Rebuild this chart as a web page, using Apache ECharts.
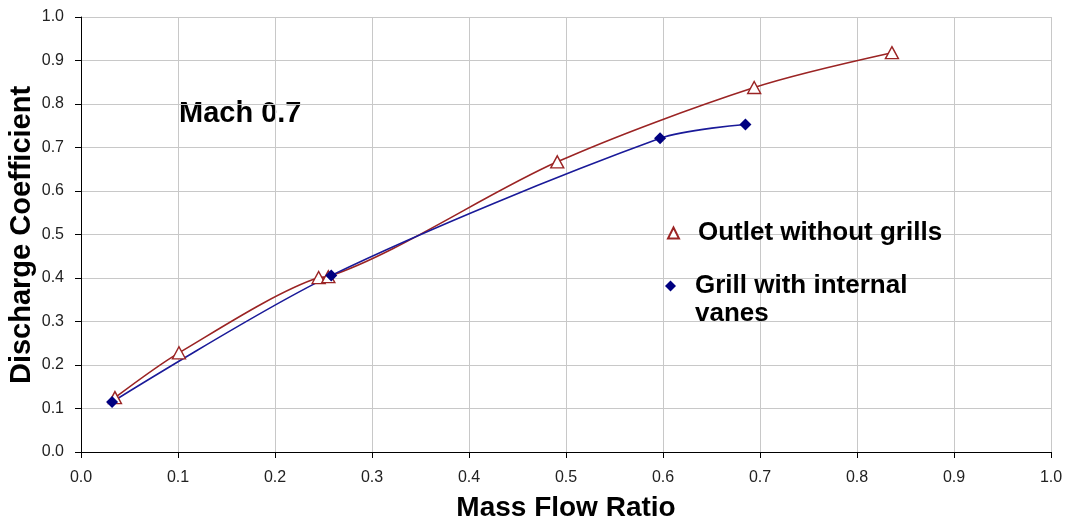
<!DOCTYPE html>
<html>
<head>
<meta charset="utf-8">
<script src="https://cdn.jsdelivr.net/npm/echarts@6/dist/echarts.min.js"></script>
<style>
html,body{margin:0;padding:0;background:#fff;}
#chart{width:1079px;height:523px;}
</style>
</head>
<body>
<div id="chart"></div>
<script>
// Data
const outletName = 'Outlet without grills';
const grillName = 'Grill with internal vanes';
const outletX = [0.035, 0.101, 0.245, 0.255, 0.491, 0.694, 0.836];
const outletY = [0.125, 0.228, 0.401, 0.403, 0.667, 0.838, 0.918];
const grillX = [0.032, 0.258, 0.597, 0.685];
const grillY = [0.115, 0.406, 0.721, 0.753];
const xTitle = 'Mass Flow Ratio';
const yTitle = 'Discharge Coefficient';
const noteText = 'Mach 0.7';

const pairs = (xs, ys) => xs.map((x, i) => [x, ys[i]]);
const font = '"Liberation Sans", Arial, sans-serif';
const redColor = '#9B2424';
const blueColor = '#000080';

const chart = echarts.init(document.getElementById('chart'), null, {renderer: 'canvas'});
const axisCommon = {
  type: 'value', min: 0, max: 1, interval: 0.1,
  axisLine: {show: true, lineStyle: {color: '#000', width: 1}},
  axisTick: {show: true, length: 6, lineStyle: {color: '#000'}},
  splitLine: {show: true, lineStyle: {color: '#c8c8c8', width: 1}},
  axisLabel: {fontFamily: font, fontSize: 16, color: '#222', formatter: v => v.toFixed(1)},
  nameLocation: 'middle',
  nameMoveOverlap: false,
  nameTextStyle: {fontFamily: font, fontWeight: 'bold', color: '#000'}
};
chart.setOption({
  animation: false,
  backgroundColor: '#fff',
  grid: {left: 81, right: 28, top: 17, bottom: 71, containLabel: false, outerBoundsMode: 'none'},
  xAxis: Object.assign({}, axisCommon, {
    name: xTitle, nameGap: 42,
    axisLabel: Object.assign({}, axisCommon.axisLabel, {margin: 18}),
    nameTextStyle: Object.assign({}, axisCommon.nameTextStyle, {fontSize: 28})
  }),
  yAxis: Object.assign({}, axisCommon, {
    axisLabel: Object.assign({}, axisCommon.axisLabel, {margin: 17})
  }),
  legend: [
    {
      data: [{name: outletName, icon: 'triangle'}],
      left: 667, top: 220, padding: 0, itemWidth: 11, itemHeight: 11,
      lineStyle: {opacity: 0},
      textStyle: {fontFamily: font, fontWeight: 'bold', fontSize: 26, color: '#000', padding: [0, 0, 0, 14]}
    },
    {
      data: [{name: grillName, icon: 'diamond'}],
      left: 665, top: 244, padding: 0, itemWidth: 11, itemHeight: 11,
      lineStyle: {opacity: 0},
      formatter: n => '\n' + n.replace(' vanes', '\nvanes'),
      textStyle: {fontFamily: font, fontWeight: 'bold', fontSize: 26, lineHeight: 28, color: '#000', padding: [0, 0, 0, 14]}
    }
  ],
  graphic: [
    {
      type: 'text', left: 179, top: 99,
      style: {text: noteText, font: 'bold 29px ' + font, fill: '#000'}
    },
    {
      type: 'text', x: 22, y: 235, rotation: Math.PI / 2,
      style: {text: yTitle, font: 'bold 29px ' + font, fill: '#000', align: 'center', verticalAlign: 'middle'}
    }
  ],
  series: [
    {
      name: outletName, type: 'line', data: pairs(outletX, outletY), smooth: 0.3,
      symbol: 'triangle', symbolSize: [13, 12],
      lineStyle: {color: redColor, width: 1.6},
      itemStyle: {color: '#fff', borderColor: redColor, borderWidth: 1.4}
    },
    {
      name: grillName, type: 'line', data: pairs(grillX, grillY), smooth: 0.3,
      symbol: 'diamond', symbolSize: 12,
      lineStyle: {color: '#1a1a99', width: 1.6},
      itemStyle: {color: blueColor, borderColor: blueColor, borderWidth: 0}
    }
  ]
});
</script>
</body>
</html>
